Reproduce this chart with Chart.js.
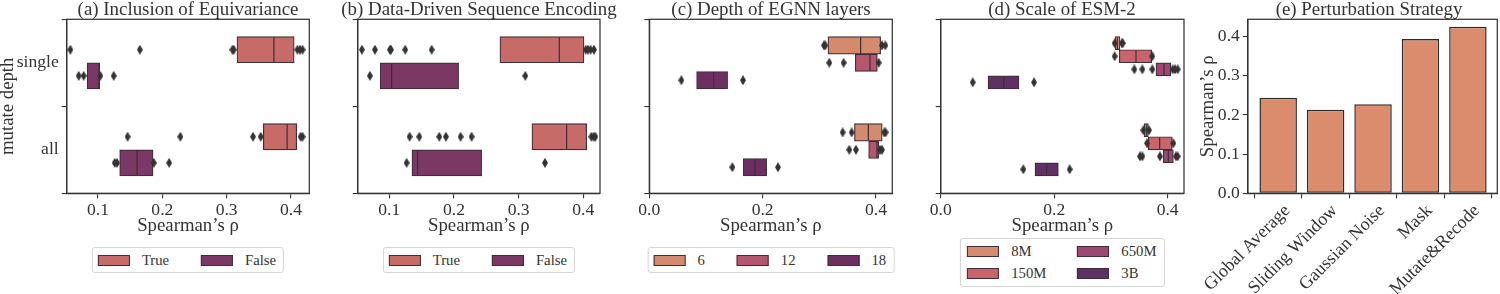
<!DOCTYPE html>
<html>
<head>
<meta charset="utf-8">
<script src="https://cdn.jsdelivr.net/npm/chart.js@4.4.1/dist/chart.umd.min.js"></script>
<style>
  html, body { margin: 0; padding: 0; background: #fff; overflow: hidden; width: 1500px; height: 294px; }
  #fig { position: relative; width: 1500px; height: 294px; overflow: hidden; }
  #fig canvas { position: absolute; top: 0; }
  .legend {
    position: absolute; transform: translateX(-50%); box-sizing: border-box;
    font-family: 'Liberation Serif', 'Times New Roman', serif; font-size: 14.7px; line-height: 18px; color: #333;
    border: 1px solid #d4d4d4; border-radius: 3px; background: #fff; white-space: nowrap;
  }
  .legend.row { display: flex; align-items: center; padding: 0 7px 0 5px; }
  .legend.row .item + .item { margin-left: 32px; }
  .legend.grid { display: grid; grid-auto-flow: column; grid-template-rows: 18px 18px; row-gap: 4px; column-gap: 31px; padding: 3px 7px 4px 6px; }
  .legend .item { display: flex; align-items: center; }
  .legend .sw { width: 32px; height: 11px; box-sizing: border-box; border: 1px solid #3f2d38; margin-right: 12px; }
</style>
</head>
<body>
<div id="fig"></div>
<script>
// mutate depth categories (y axis of the boxen panels)
const depthLabels = ['single', 'all'];

// boxes are [lower edge, median, upper edge] per depth; outliers listed per depth
// (a) Inclusion of Equivariance
const equivHues = ['True', 'False'];
const equivTrueBox = [[0.316, 0.3735, 0.405], [0.357, 0.394, 0.409]];
const equivTrueOut = [[0.057, 0.165, 0.309, 0.311, 0.410, 0.414, 0.418], [0.146, 0.228, 0.341, 0.353, 0.415, 0.418]];
const equivFalseBox = [[0.083, 0.1015, 0.1026], [0.1337, 0.1607, 0.1856]];
const equivFalseOut = [[0.070, 0.0777, 0.1036, 0.1244], [0.126, 0.1296, 0.1867, 0.2106]];

// (b) Data-Driven Sequence Encoding
const encHues = ['True', 'False'];
const encTrueBox = [[0.2711, 0.3629, 0.401], [0.3206, 0.3742, 0.4052]];
const encTrueOut = [[0.0577, 0.0778, 0.101, 0.1026, 0.1247, 0.1655, 0.4036, 0.4072, 0.4113, 0.4165],
                    [0.1314, 0.1464, 0.1773, 0.1876, 0.2103, 0.2273, 0.4124, 0.416, 0.4186]];
const encFalseBox = [[0.0861, 0.1036, 0.2072], [0.1351, 0.1438, 0.2428]];
const encFalseOut = [[0.0701, 0.3103], [0.1268, 0.3407]];

// (c) Depth of EGNN layers
const egnnHues = ['6', '12', '18'];
const egnn6Box = [[0.3153, 0.3729, 0.4082], [0.362, 0.3865, 0.411]];
const egnn6Out = [[0.3082, 0.3106, 0.4106, 0.4165], [0.3412, 0.3571, 0.4147, 0.417]];
const egnn12Box = [[0.3635, 0.3894, 0.4024], [0.3871, 0.4018, 0.4047]];
const egnn12Out = [[0.3176, 0.3429, 0.4047], [0.3529, 0.3647, 0.407, 0.4106]];
const egnn18Box = [[0.0835, 0.1135, 0.1382], [0.1659, 0.1865, 0.2071]];
const egnn18Out = [[0.0565, 0.1653], [0.1465, 0.2271]];

// (d) Scale of ESM-2
const esmHues = ['8M', '150M', '650M', '3B'];
const esm8Box = [[0.3072, 0.3113, 0.316], [0.3583, 0.3624, 0.3659]];
const esm8Out = [[0.3066, 0.3195, 0.3207], [0.3572, 0.3672]];
const esm150Box = [[0.3148, 0.3442, 0.3718], [0.3659, 0.3859, 0.4082]];
const esm150Out = [[0.3066, 0.373], [0.3636, 0.41]];
const esm650Box = [[0.3794, 0.3935, 0.4053], [0.3924, 0.4012, 0.41]];
const esm650Out = [[0.3413, 0.3554, 0.373, 0.4088, 0.4129, 0.4176], [0.3512, 0.3554, 0.3865, 0.4147, 0.4176]];
const esm3bBox = [[0.0834, 0.111, 0.138], [0.1662, 0.1868, 0.2073]];
const esm3bOut = [[0.0564, 0.1645], [0.1457, 0.2273]];

// (e) Perturbation Strategy
const strategies = ['Global Average', 'Sliding Window', 'Gaussian Noise', 'Mask', 'Mutate&Recode'];
const strategyRho = [0.244, 0.213, 0.227, 0.394, 0.425];

// tick labels
const ticksAB = [0.1, 0.2, 0.3, 0.4];
const ticksCD = [0.0, 0.2, 0.4];
const ticksE = [0.0, 0.1, 0.2, 0.3, 0.4];

// ---- styling / layout ----
Chart.defaults.font.family = "'Liberation Serif', 'Times New Roman', serif";
Chart.defaults.color = '#333';
const INK = '#333';
const EDGE = '#3f2d38';
const FIG_H = 294;
const PLOT_TOP = 19.3, PLOT_BOTTOM = 193.3;
const TITLE_SIZE = 18.9, LABEL_SIZE = 18.8, TICK_SIZE = 17.6;

// plot rectangles of the five panels (pixels) and half-width of each canvas
const geo = {
  a: { left: 66.7, right: 309.3, half: 188, xh: 45 },
  b: { left: 357.7, right: 600.0, half: 150, xh: 45 },
  c: { left: 649.3, right: 892.3, half: 140, xh: 45 },
  d: { left: 940.7, right: 1184.0, half: 140, xh: 45 },
  e: { left: 1241.0, right: 1497.3, half: 179.15, xh: FIG_H - PLOT_BOTTOM }
};

const diamond = document.createElement('canvas');
diamond.width = 6; diamond.height = 10;
(function () {
  const g = diamond.getContext('2d');
  g.fillStyle = '#333';
  g.beginPath(); g.moveTo(3, 0); g.lineTo(6, 5); g.lineTo(3, 10); g.lineTo(0, 5); g.closePath(); g.fill();
})();

// draws the four spines around the plot area
const framePlugin = {
  id: 'frame',
  afterDraw(chart) {
    const { ctx, chartArea: a } = chart;
    ctx.save();
    ctx.strokeStyle = INK;
    ctx.lineWidth = 1.25;
    ctx.strokeRect(a.left, a.top, a.right - a.left, a.bottom - a.top);
    ctx.restore();
  }
};

function makeCanvas(g) {
  const center = (g.left + g.right) / 2;
  const left = Math.round(center - g.half);
  const width = Math.round(g.half * 2);
  const c = document.createElement('canvas');
  c.width = width; c.height = FIG_H;
  c.style.left = left + 'px';
  c.style.width = width + 'px'; c.style.height = FIG_H + 'px';
  document.getElementById('fig').appendChild(c);
  return { el: c, left, width };
}

const tickGrid = { display: true, drawOnChartArea: false, drawTicks: true, tickLength: 5, color: INK, lineWidth: 1.1 };
const spine = { display: true, color: INK, width: 1.25 };

// empty right-hand axis that reserves the space right of the plot,
// so that the title (centred on the canvas) sits over the plot
function spacerAxis(g, c) {
  return {
    type: 'linear', position: 'right', display: true,
    afterFit: s => { s.width = c.left + c.width - g.right; },
    ticks: { display: false }, grid: { display: false }, border: { display: false }
  };
}

function commonOptions(g, c, title, scales) {
  scales.r = spacerAxis(g, c);
  return {
    responsive: false,
    animation: false,
    layout: { padding: { left: 0, top: 0.2, right: 0, bottom: FIG_H - PLOT_BOTTOM - g.xh } },
    plugins: {
      legend: { display: false },
      tooltip: { enabled: false },
      title: { display: true, text: title, color: INK, padding: 0, font: { size: TITLE_SIZE, weight: 'normal', lineHeight: 1.01 } }
    },
    scales
  };
}

function rhoAxis(g, min, max, ticks) {
  return {
    type: 'linear', min, max, offset: false,
    afterBuildTicks: s => { s.ticks = ticks.map(v => ({ value: v })); },
    afterFit: s => { s.height = g.xh; },
    ticks: { callback: v => v.toFixed(1), font: { size: TICK_SIZE }, padding: 2, maxRotation: 0, autoSkip: false, color: INK },
    grid: tickGrid, border: spine,
    title: { display: true, text: 'Spearman\u2019s \u03c1', color: INK, font: { size: LABEL_SIZE }, padding: { top: 0, bottom: 1 } }
  };
}

function addLegend(g, hues, colors, top, height, grid) {
  const box = document.createElement('div');
  box.className = 'legend ' + (grid ? 'grid' : 'row');
  box.style.left = ((g.left + g.right) / 2) + 'px';
  box.style.top = top + 'px';
  box.style.height = height + 'px';
  hues.forEach((h, k) => {
    const item = document.createElement('div');
    item.className = 'item';
    const sw = document.createElement('span');
    sw.className = 'sw';
    sw.style.background = colors[k];
    const tx = document.createElement('span');
    tx.textContent = h;
    item.appendChild(sw); item.appendChild(tx);
    box.appendChild(item);
  });
  document.getElementById('fig').appendChild(box);
}

function boxenPanel(g, title, hues, boxes, outs, colors, xMin, xMax, xTicks, showDepth) {
  const c = makeCanvas(g);
  const band = 0.6 / hues.length;
  const boxPx = (PLOT_BOTTOM - PLOT_TOP) / depthLabels.length * band;
  const datasets = [];
  hues.forEach((hue, k) => {
    const off = -0.3 + band * (k + 0.5);
    datasets.push({
      type: 'bar', label: hue, indexAxis: 'y', grouped: false, order: 2,
      data: boxes[k].map((b, i) => ({ x: [b[0], b[2]], y: i + off })),
      backgroundColor: colors[k], borderColor: EDGE, borderWidth: 1.2,
      borderSkipped: false, barThickness: boxPx
    });
    datasets.push({
      type: 'scatter', label: hue + ' median', order: 1,
      data: boxes[k].map((b, i) => ({ x: b[1], y: i + off })),
      pointStyle: 'line', pointRotation: 90, pointRadius: boxPx / 2 - 0.6,
      pointBorderColor: EDGE, pointBorderWidth: 1.2
    });
    datasets.push({
      type: 'scatter', label: hue + ' outliers', order: 0,
      data: outs[k].flatMap((row, i) => row.map(v => ({ x: v, y: i + off }))),
      pointStyle: diamond, pointRadius: 3
    });
  });
  new Chart(c.el, {
    type: 'scatter',
    data: { datasets },
    options: commonOptions(g, c, title, {
      x: rhoAxis(g, xMin, xMax, xTicks),
      y: {
        type: 'linear', min: -0.5, max: 1.5, reverse: true, offset: false,
        afterBuildTicks: s => { s.ticks = depthLabels.map((_, i) => ({ value: i })); },
        afterFit: s => { s.width = g.left - c.left; },
        ticks: { callback: v => (showDepth ? depthLabels[v] : ''), font: { size: TICK_SIZE }, padding: 3, color: INK },
        grid: tickGrid, border: spine,
        title: { display: showDepth, text: 'mutate depth', color: INK, font: { size: LABEL_SIZE }, padding: { top: -2.8, bottom: 0 } }
      }
    }),
    plugins: [framePlugin]
  });
}

boxenPanel(geo.a, '(a) Inclusion of Equivariance', equivHues,
  [equivTrueBox, equivFalseBox], [equivTrueOut, equivFalseOut], ['#c76b68', '#7c3864'],
  0.0513, 0.4285, ticksAB, true);
addLegend(geo.a, equivHues, ['#c76b68', '#7c3864'], 247, 26, false);

boxenPanel(geo.b, '(b) Data-Driven Sequence Encoding', encHues,
  [encTrueBox, encFalseBox], [encTrueOut, encFalseOut], ['#c76b68', '#7c3864'],
  0.0512, 0.4258, ticksAB, false);
addLegend(geo.b, encHues, ['#c76b68', '#7c3864'], 247, 26, false);

const egnnColors = ['#d48a6d', '#b5566f', '#6d2f62'];
boxenPanel(geo.c, '(c) Depth of EGNN layers', egnnHues,
  [egnn6Box, egnn12Box, egnn18Box], [egnn6Out, egnn12Out, egnn18Out], egnnColors,
  0, 0.4288, ticksCD, false);
addLegend(geo.c, egnnHues, egnnColors, 247, 26, false);

const esmColors = ['#d68a6e', '#c9646a', '#9c4872', '#5f3064'];
boxenPanel(geo.d, '(d) Scale of ESM-2', esmHues,
  [esm8Box, esm150Box, esm650Box, esm3bBox], [esm8Out, esm150Out, esm650Out, esm3bOut], esmColors,
  0, 0.4288, ticksCD, false);
addLegend(geo.d, esmHues, esmColors, 238, 49, true);

// (e) bar chart
(function () {
  const g = geo.e;
  const c = makeCanvas(g);
  new Chart(c.el, {
    type: 'scatter',
    data: {
      datasets: [{
        type: 'bar', label: 'Spearman\u2019s \u03c1',
        data: strategies.map((s, i) => ({ x: i, y: strategyRho[i] })),
        backgroundColor: '#da8c6d', borderColor: '#2b2b2b', borderWidth: 1.5,
        borderSkipped: false, categoryPercentage: 1, barPercentage: 0.79
      }]
    },
    options: commonOptions(g, c, '(e) Perturbation Strategy', {
      x: {
        type: 'linear', min: -0.64, max: 4.62, offset: false,
        afterBuildTicks: s => { s.ticks = strategies.map((_, i) => ({ value: i })); },
        afterFit: s => { s.height = g.xh; },
        ticks: { callback: v => strategies[v], font: { size: 18 }, padding: 2, labelOffset: 9, minRotation: 45, maxRotation: 45, autoSkip: false, color: INK },
        grid: tickGrid, border: spine
      },
      y: {
        type: 'linear', min: 0, max: 0.444,
        afterBuildTicks: s => { s.ticks = ticksE.map(v => ({ value: v })); },
        afterFit: s => { s.width = g.left - c.left; },
        ticks: { callback: v => v.toFixed(1), font: { size: TICK_SIZE }, padding: 3, color: INK },
        grid: tickGrid, border: spine,
        title: { display: true, text: 'Spearman\u2019s \u03c1', color: INK, font: { size: LABEL_SIZE }, padding: { top: -0.3, bottom: 0 } }
      }
    }),
    plugins: [framePlugin]
  });
})();
</script>
</body>
</html>
